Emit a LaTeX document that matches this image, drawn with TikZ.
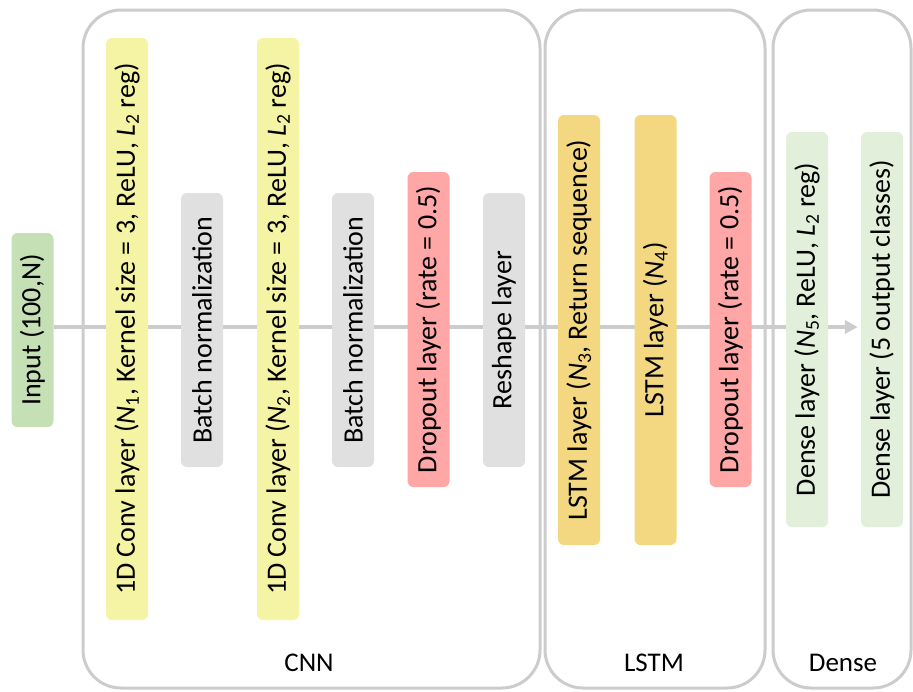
\documentclass[tikz,border=0pt]{standalone}
\usepackage{fontspec}
\setmainfont{Carlito}
\usetikzlibrary{arrows.meta,backgrounds}
\definecolor{linegray}{HTML}{CCCCCC}
\definecolor{ingreen}{HTML}{C5E0B4}
\definecolor{convyel}{HTML}{F4F4A4}
\definecolor{bngray}{HTML}{E0E0E0}
\definecolor{dropred}{HTML}{FFA7A7}
\definecolor{lstmgold}{HTML}{F3D881}
\definecolor{densegreen}{HTML}{E2EFDA}
\newcommand{\vsym}[2]{\textit{#1}\textsubscript{#2}}
\tikzset{
  layer/.style={rotate=90, rounded corners=6pt, minimum height=42pt, inner sep=0pt, font=\fontsize{28}{32}\selectfont, text=black},
  group/.style={draw=linegray, line width=3pt, rounded corners=38pt, inner sep=0pt},
  grouplabel/.style={font=\fontsize{27}{31}\selectfont, text=black},
  flow/.style={draw=linegray, line width=4pt}
}
\begin{document}
\begin{tikzpicture}[x=1pt,y=-1pt]
\useasboundingbox (0,0) rectangle (913,691);
% groups
\node[group, minimum width=457pt, minimum height=678pt] (gcnn) at (311.5,349) {};
\node[group, minimum width=220pt, minimum height=678pt] (glstm) at (655,349) {};
\node[group, minimum width=138pt, minimum height=678pt] (gdense) at (842,349) {};
\node[grouplabel] (lcnn) at (309,663) {CNN};
\node[grouplabel] (llstm) at (654,663) {LSTM};
\node[grouplabel] (ldense) at (843,663) {Dense};
% layers
\node[layer, fill=ingreen, minimum width=194pt] (in) at (32.5,330) {Input (100,N)};
\node[layer, fill=convyel, minimum width=582pt] (c1) at (127,329) {1D Conv layer (\vsym{N}{1}, Kernel size = 3, ReLU, \vsym{L}{2} reg)};
\node[layer, fill=bngray, minimum width=274pt] (b1) at (202,330) {Batch normalization};
\node[layer, fill=convyel, minimum width=582pt] (c2) at (278,329) {1D Conv layer (\vsym{N}{2}, Kernel size = 3, ReLU, \vsym{L}{2} reg)};
\node[layer, fill=bngray, minimum width=274pt] (b2) at (353,330) {Batch normalization};
\node[layer, fill=dropred, minimum width=315pt] (d1) at (428.5,329.5) {Dropout layer (rate = 0.5)};
\node[layer, fill=bngray, minimum width=274pt] (rs) at (504,330) {Reshape layer};
\node[layer, fill=lstmgold, minimum width=430pt] (l1) at (579,330) {LSTM layer (\vsym{N}{3}, Return sequence)};
\node[layer, fill=lstmgold, minimum width=430pt] (l2) at (655.5,330) {LSTM layer (\vsym{N}{4})};
\node[layer, fill=dropred, minimum width=315pt] (d2) at (730.5,329.5) {Dropout layer (rate = 0.5)};
\node[layer, fill=densegreen, minimum width=395pt] (e1) at (807,329.5) {Dense layer (\vsym{N}{5}, ReLU, \vsym{L}{2} reg)};
\node[layer, fill=densegreen, minimum width=395pt] (e2) at (882,329.5) {Dense layer (5 output classes)};
% flow line behind
\begin{scope}[on background layer]
\draw[flow, -{Triangle[length=13pt,width=13pt]}] (in.south |- 0,327) -- ([xshift=-3pt]e2.north |- 0,327);
\end{scope}
\end{tikzpicture}
\end{document}
